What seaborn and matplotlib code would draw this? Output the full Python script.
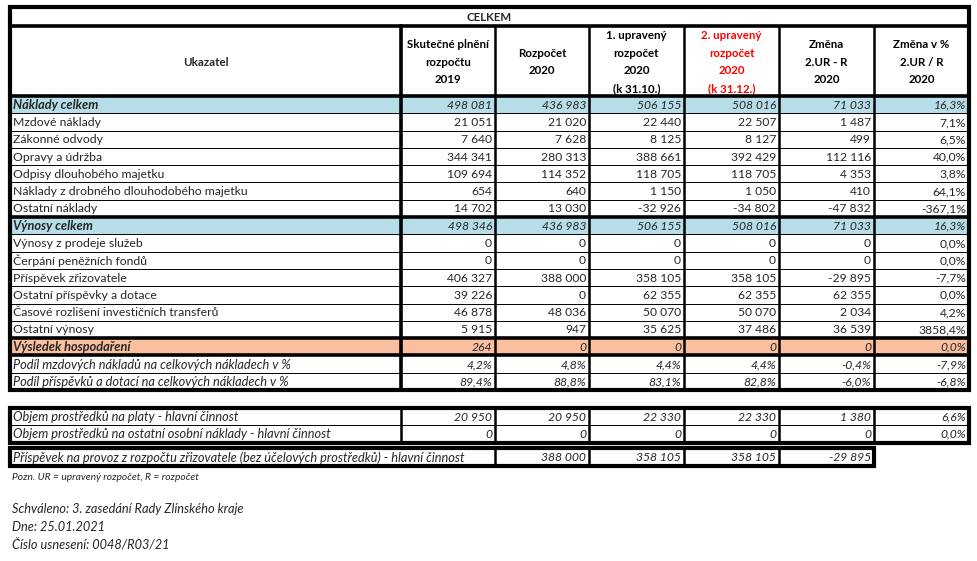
import numpy as np
import seaborn as sns
from matplotlib import pyplot as plt
from matplotlib.patches import Rectangle

sns.set_theme(style="white")
plt.rcParams["font.family"] = ["Lato", "DejaVu Sans"]

BLUE = "#B7DEE8"
SALMON = "#FABF9F"
RED = "#FF0000"

# ---- data ----
title = "CELKEM"
header_label = "Ukazatel"
column_headers = [
    ["Skutečné plnění", "rozpočtu", "2019"],
    ["Rozpočet", "2020"],
    ["1. upravený", "rozpočet", "2020", "(k 31.10.)"],
    ["2. upravený", "rozpočet", "2020", "(k 31.12.)"],
    ["Změna", "2.UR - R", "2020"],
    ["Změna v %", "2.UR / R", "2020"],
]

labels = [
    "Náklady celkem",
    "Mzdové náklady",
    "Zákonné odvody",
    "Opravy a údržba",
    "Odpisy dlouhobého majetku",
    "Náklady z drobného dlouhodobého majetku",
    "Ostatní náklady",
    "Výnosy celkem",
    "Výnosy z prodeje služeb",
    "Čerpání peněžních fondů",
    "Příspěvek zřizovatele",
    "Ostatní příspěvky a dotace",
    "Časové rozlišení investičních transferů",
    "Ostatní výnosy",
    "Výsledek hospodaření",
    "Podíl mzdových nákladů na celkových nákladech v %",
    "Podíl příspěvků a dotací na celkových nákladech v %",
]
skutecnost_2019 = [498081, 21051, 7640, 344341, 109694, 654, 14702, 498346,
                   0, 0, 406327, 39226, 46878, 5915, 264, 4.2, 89.4]
rozpocet_2020 = [436983, 21020, 7628, 280313, 114352, 640, 13030, 436983,
                 0, 0, 388000, 0, 48036, 947, 0, 4.8, 88.8]
ur1_2020 = [506155, 22440, 8125, 388661, 118705, 1150, -32926, 506155,
            0, 0, 358105, 62355, 50070, 35625, 0, 4.4, 83.1]
ur2_2020 = [508016, 22507, 8127, 392429, 118705, 1050, -34802, 508016,
            0, 0, 358105, 62355, 50070, 37486, 0, 4.4, 82.8]
zmena = [71033, 1487, 499, 112116, 4353, 410, -47832, 71033,
         0, 0, -29895, 62355, 2034, 36539, 0, -0.4, -6.0]
zmena_pct = [16.3, 7.1, 6.5, 40.0, 3.8, 64.1, -367.1, 16.3,
             0.0, 0.0, -7.7, 0.0, 4.2, 3858.4, 0.0, -7.9, -6.8]
total_rows = [0, 7]
result_rows = [14]
share_rows = [15, 16]

objem_labels = [
    "Objem prostředků na platy - hlavní činnost",
    "Objem prostředků na ostatní osobní náklady - hlavní činnost",
]
objem_values = [
    [20950, 20950, 22330, 22330, 1380, 6.6],
    [0, 0, 0, 0, 0, 0.0],
]
prispevek_label = "Příspěvek na provoz z rozpočtu zřizovatele (bez účelových prostředků) - hlavní činnost"
prispevek_values = [388000, 358105, 358105, -29895]

note = "Pozn. UR = upravený rozpočet, R = rozpočet"
footer = [
    "Schváleno: 3. zasedání Rady Zlínského kraje",
    "Dne: 25.01.2021",
    "Číslo usnesení: 0048/R03/21",
]

# ---- layout (pixels) ----
col_x = [10, 401, 495, 589, 684, 779, 874, 969]
title_top, title_bot, head_bot = 7, 26, 96
row_h = (390 - head_bot) / len(labels)
FS = 8.3          # header
FS_NUM = 8.7      # numbers
FS_LABEL = 8.8    # regular row labels
FS_ITALIC = 9.2   # italic labels and footer
THICK, MED, THIN = 2.6, 1.8, 0.7


def fmt_int(v):
    return f"{v:,.0f}".replace(",", " ")


def fmt_pct(v):
    return f"{v:.1f}".replace(".", ",") + "%"


fig = plt.figure(figsize=(9.78, 5.61), dpi=100)
ax = fig.add_axes([0, 0, 1, 1])
ax.set_xlim(0, 978)
ax.set_ylim(561, 0)
ax.axis("off")


def hline(y, x0, x1, lw):
    ax.plot([x0, x1], [y, y], color="black", lw=lw, solid_capstyle="projecting")


def vline(x, y0, y1, lw):
    ax.plot([x, x], [y0, y1], color="black", lw=lw, solid_capstyle="projecting")


# main table fills
for r in total_rows + result_rows:
    color = BLUE if r in total_rows else SALMON
    y0 = head_bot + r * row_h
    ax.add_patch(Rectangle((col_x[0], y0), col_x[-1] - col_x[0], row_h,
                           facecolor=color, edgecolor="none"))

# title and header
ax.text((col_x[0] + col_x[-1]) / 2, (title_top + title_bot) / 2 + 1, title,
        ha="center", va="center", fontsize=FS, fontweight="bold")
ax.text((col_x[0] + col_x[1]) / 2, (title_bot + head_bot) / 2 + 1, header_label,
        ha="center", va="center", fontsize=FS, fontweight="bold")
line_gap = 17.5
for j, lines in enumerate(column_headers):
    cx = (col_x[j + 1] + col_x[j + 2]) / 2
    cy = (title_bot + head_bot) / 2 + 1
    color = RED if j == 3 else "black"
    for k, t in enumerate(lines):
        ax.text(cx, cy + (k - (len(lines) - 1) / 2) * line_gap, t,
                ha="center", va="center", fontsize=FS, fontweight="bold", color=color)

# body text
columns = [skutecnost_2019, rozpocet_2020, ur1_2020, ur2_2020, zmena, zmena_pct]
for r, label in enumerate(labels):
    yc = head_bot + (r + 0.5) * row_h + 0.5
    bold = r in total_rows + result_rows
    italic = bold or r in share_rows
    size = FS_ITALIC if italic else FS_LABEL
    ax.text(col_x[0] + 3, yc, label, ha="left", va="center", fontsize=size,
            fontweight="bold" if bold else "normal",
            fontstyle="italic" if italic else "normal")
    for j, col in enumerate(columns):
        v = col[r]
        s = fmt_pct(v) if (j == 5 or r in share_rows) else fmt_int(v)
        ax.text(col_x[j + 2] - 3, yc, s, ha="right", va="center", fontsize=FS_NUM,
                fontstyle="italic" if italic else "normal")

# main table grid
for r in range(1, len(labels)):
    y = head_bot + r * row_h
    thick = r in (7, 14, 15)
    hline(y, col_x[0], col_x[-1], THICK if thick else THIN)
hline(head_bot, col_x[0], col_x[-1], THICK)
hline(title_bot, col_x[0], col_x[-1], THICK)
for j, x in enumerate(col_x[1:-1]):
    vline(x, title_bot, 390, THICK if j == 0 else MED)
ax.add_patch(Rectangle((col_x[0], title_top), col_x[-1] - col_x[0], 390 - title_top,
                       fill=False, edgecolor="black", lw=THICK + 0.4))

# objem table
ob_top, ob_mid, ob_bot = 408, 425, 442.5
for r, (label, vals) in enumerate(zip(objem_labels, objem_values)):
    yc = (ob_top + ob_mid) / 2 + 0.5 if r == 0 else (ob_mid + ob_bot) / 2 + 0.5
    ax.text(col_x[0] + 3, yc, label, ha="left", va="center", fontsize=FS_ITALIC,
            fontstyle="italic")
    for j, v in enumerate(vals):
        s = fmt_pct(v) if j == 5 else fmt_int(v)
        ax.text(col_x[j + 2] - 3, yc, s, ha="right", va="center", fontsize=FS_NUM,
                fontstyle="italic")
hline(ob_mid, col_x[0], col_x[-1], THIN)
for j, x in enumerate(col_x[1:-1]):
    vline(x, ob_top, ob_bot, MED)
ax.add_patch(Rectangle((col_x[0], ob_top), col_x[-1] - col_x[0], ob_bot - ob_top,
                       fill=False, edgecolor="black", lw=THICK + 0.4))

# prispevek table
pr_top, pr_bot = 448, 465.5
yc = (pr_top + pr_bot) / 2 + 0.5
ax.text(col_x[0] + 3, yc, prispevek_label, ha="left", va="center", fontsize=FS_ITALIC,
        fontstyle="italic")
for j, v in enumerate(prispevek_values):
    ax.text(col_x[j + 3] - 3, yc, fmt_int(v), ha="right", va="center", fontsize=FS_NUM,
            fontstyle="italic")
for x in col_x[2:6]:
    vline(x, pr_top, pr_bot, MED)
ax.add_patch(Rectangle((col_x[0], pr_top), col_x[6] - col_x[0], pr_bot - pr_top,
                       fill=False, edgecolor="black", lw=THICK + 0.4))

# notes
ax.text(col_x[0] + 2, 477, note, ha="left", va="center", fontsize=7.4,
        fontstyle="italic")
for k, t in enumerate(footer):
    ax.text(col_x[0] + 2, 509 + k * 17.8, t, ha="left", va="center", fontsize=FS_ITALIC,
            fontstyle="italic")

fig.savefig("out.png", dpi=100)
